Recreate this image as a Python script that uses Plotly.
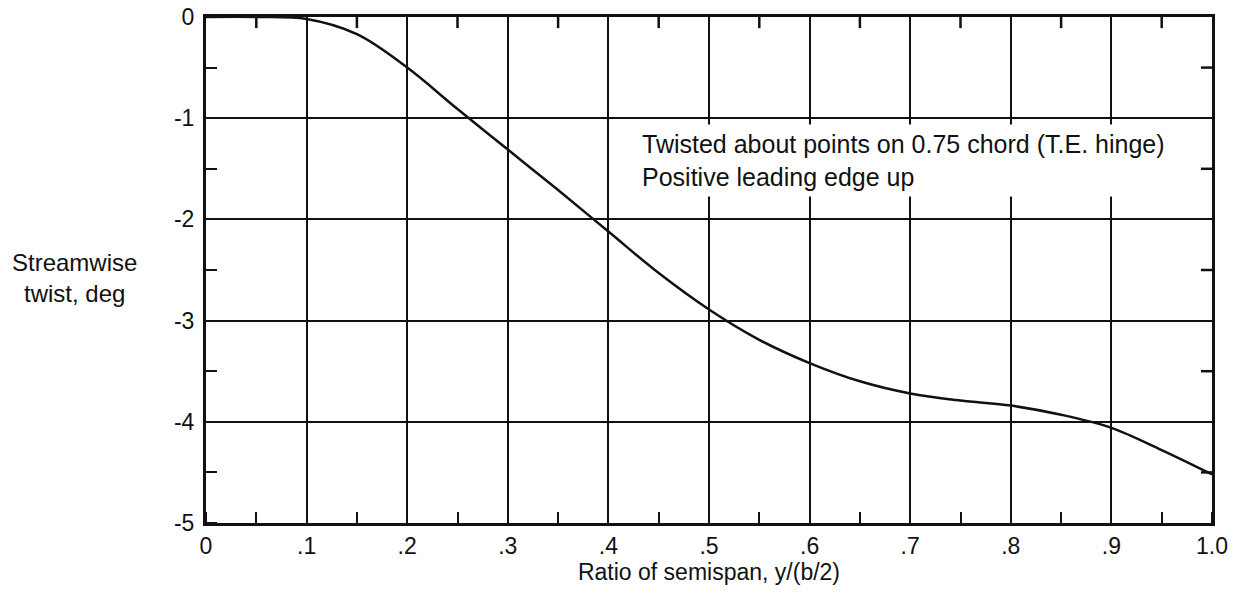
import plotly.graph_objects as go

# Data
span_ratio = [0, 0.05, 0.1, 0.15, 0.2, 0.25, 0.3, 0.35, 0.4, 0.45, 0.5,
              0.55, 0.6, 0.65, 0.7, 0.75, 0.8, 0.85, 0.9, 0.95, 1.0]
twist_deg = [0, 0, -0.02, -0.17, -0.50, -0.91, -1.31, -1.71, -2.12, -2.53, -2.89,
             -3.19, -3.42, -3.60, -3.72, -3.79, -3.84, -3.93, -4.06, -4.28, -4.52]

x_tickvals = [0, 0.1, 0.2, 0.3, 0.4, 0.5, 0.6, 0.7, 0.8, 0.9, 1.0]
x_ticktext = ["0", ".1", ".2", ".3", ".4", ".5", ".6", ".7", ".8", ".9", "1.0"]
y_tickvals = [0, -1, -2, -3, -4, -5]
y_ticktext = ["0", "-1", "-2", "-3", "-4", "-5"]
x_minor_vals = [0.05, 0.15, 0.25, 0.35, 0.45, 0.55, 0.65, 0.75, 0.85, 0.95]
y_minor_vals = [-0.5, -1.5, -2.5, -3.5, -4.5]

note_text = "Twisted about points on 0.75 chord (T.E. hinge)<br>Positive leading edge up"
y_title = "Streamwise<br>twist, deg"
x_title = "Ratio of semispan, y/(b/2)"

FONT = "Liberation Sans, Arial, sans-serif"
INK = "#111111"
TICKLEN = 11

X_RANGE = [0, 1.0]
Y_RANGE = [-5, 0]

fig = go.Figure()

# mirrored minor ticks on the top and right frame edges, built from the tick arrays
x_len = 0.011 * (X_RANGE[1] - X_RANGE[0])
y_len = 0.022 * (Y_RANGE[1] - Y_RANGE[0])
tx, ty = [], []
for v in x_minor_vals:
    tx += [v, v, None]
    ty += [Y_RANGE[1], Y_RANGE[1] - y_len, None]
for v in y_minor_vals:
    tx += [X_RANGE[1], X_RANGE[1] - x_len, None]
    ty += [v, v, None]
fig.add_trace(go.Scatter(
    x=tx, y=ty, mode="lines", line=dict(color=INK, width=2.5),
    showlegend=False, hoverinfo="skip", cliponaxis=False, connectgaps=False,
))

fig.add_trace(go.Scatter(
    x=span_ratio, y=twist_deg, mode="lines",
    line=dict(color=INK, width=2.5, shape="spline", smoothing=1.0),
    showlegend=False, hoverinfo="skip",
))

fig.add_annotation(
    x=0.427, y=-1.42, xref="x", yref="y",
    text=note_text, showarrow=False, xanchor="left", yanchor="middle",
    align="left", bgcolor="white", borderpad=5,
    font=dict(family=FONT, size=25, color=INK),
)

fig.add_annotation(
    x=-0.131, y=0.485, xref="paper", yref="paper",
    text=y_title, showarrow=False,
    xanchor="center", yanchor="middle", align="center",
    font=dict(family=FONT, size=24, color=INK),
)

minor_common = dict(ticks="inside", ticklen=TICKLEN, tickwidth=2, tickcolor=INK, showgrid=False)

fig.update_layout(
    width=1239, height=599,
    margin=dict(l=206, r=27, t=17, b=76, autoexpand=False),
    paper_bgcolor="white", plot_bgcolor="white",
    font=dict(family=FONT, size=23, color=INK),
    xaxis=dict(
        range=X_RANGE, tickvals=x_tickvals, ticktext=x_ticktext,
        showgrid=True, gridcolor=INK, gridwidth=1.8,
        ticks="", showline=True, linecolor=INK, linewidth=3, mirror=True,
        zeroline=False, automargin=False,
        minor=dict(dtick=0.05, tick0=0, **minor_common),
        title=dict(text=x_title, standoff=6, font=dict(family=FONT, size=23, color=INK)),
        tickfont=dict(family=FONT, size=23, color=INK),
    ),
    yaxis=dict(
        range=Y_RANGE, tickvals=y_tickvals, ticktext=y_ticktext,
        showgrid=True, gridcolor=INK, gridwidth=1.8,
        ticks="", showline=True, linecolor=INK, linewidth=3, mirror=True,
        zeroline=False, automargin=False,
        minor=dict(dtick=0.5, tick0=0, **minor_common),
        tickfont=dict(family=FONT, size=23, color=INK),
        ticklabelstandoff=4,
    ),
)

fig.write_html("out.html")
